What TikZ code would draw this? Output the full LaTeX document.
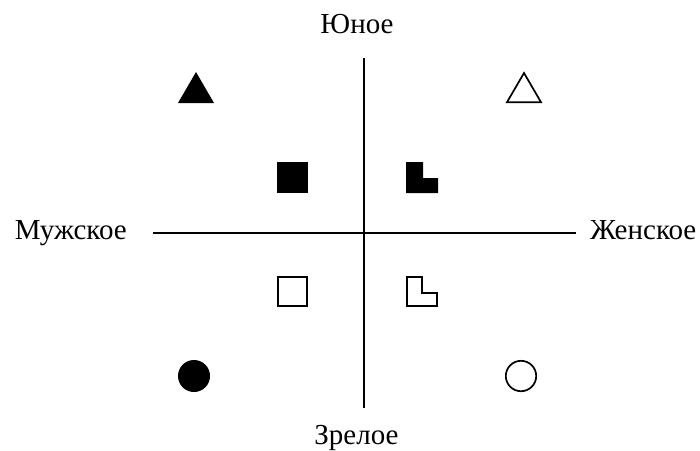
\documentclass[tikz,border=0pt]{standalone}
\usepackage{fontspec}
\setmainfont{Liberation Serif}
\begin{document}
\begin{tikzpicture}[x=1pt,y=-1pt,
  axis/.style={line width=1.5pt},
  lbl/.style={inner sep=0pt,font=\fontsize{29}{33}\selectfont},
  filledshape/.style={fill=black,draw=none},
  openshape/.style={draw=black,line width=1.7pt,fill=white}]
\useasboundingbox (0,0) rectangle (700,450);
% axes
\coordinate (top) at (364,58);
\coordinate (bot) at (364,408);
\coordinate (left) at (153,233);
\coordinate (right) at (576,233);
\draw[axis] (top) -- (bot);
\draw[axis] (left) -- (right);
% labels
\node[lbl,anchor=base] (young) at (357,33) {Юное};
\node[lbl,anchor=base] (mature) at (356.5,444) {Зрелое};
\node[lbl,anchor=base east] (male) at (127,239) {Мужское};
\node[lbl,anchor=base west] (female) at (590,239) {Женское};
% triangles
\path[filledshape] (178,103) -- (214,103) -- (196,72) -- cycle;
\path[openshape] (507,102.2) -- (541,102.2) -- (524,73) -- cycle;
% squares
\path[filledshape] (277,162) rectangle (308,193);
\path[openshape] (277.8,276.8) rectangle (307.2,306.2);
% L shapes
\path[filledshape] (406,162) -- (423,162) -- (423,178) -- (438,178) -- (438,193) -- (406,193) -- cycle;
\path[openshape] (407.3,276.8) -- (422,276.8) -- (422,293) -- (437.2,293) -- (437.2,306.2) -- (407.3,306.2) -- cycle;
% circles
\path[filledshape] (194,376) circle[radius=16];
\path[openshape] (521,376) circle[radius=15.2];
\end{tikzpicture}
\end{document}
